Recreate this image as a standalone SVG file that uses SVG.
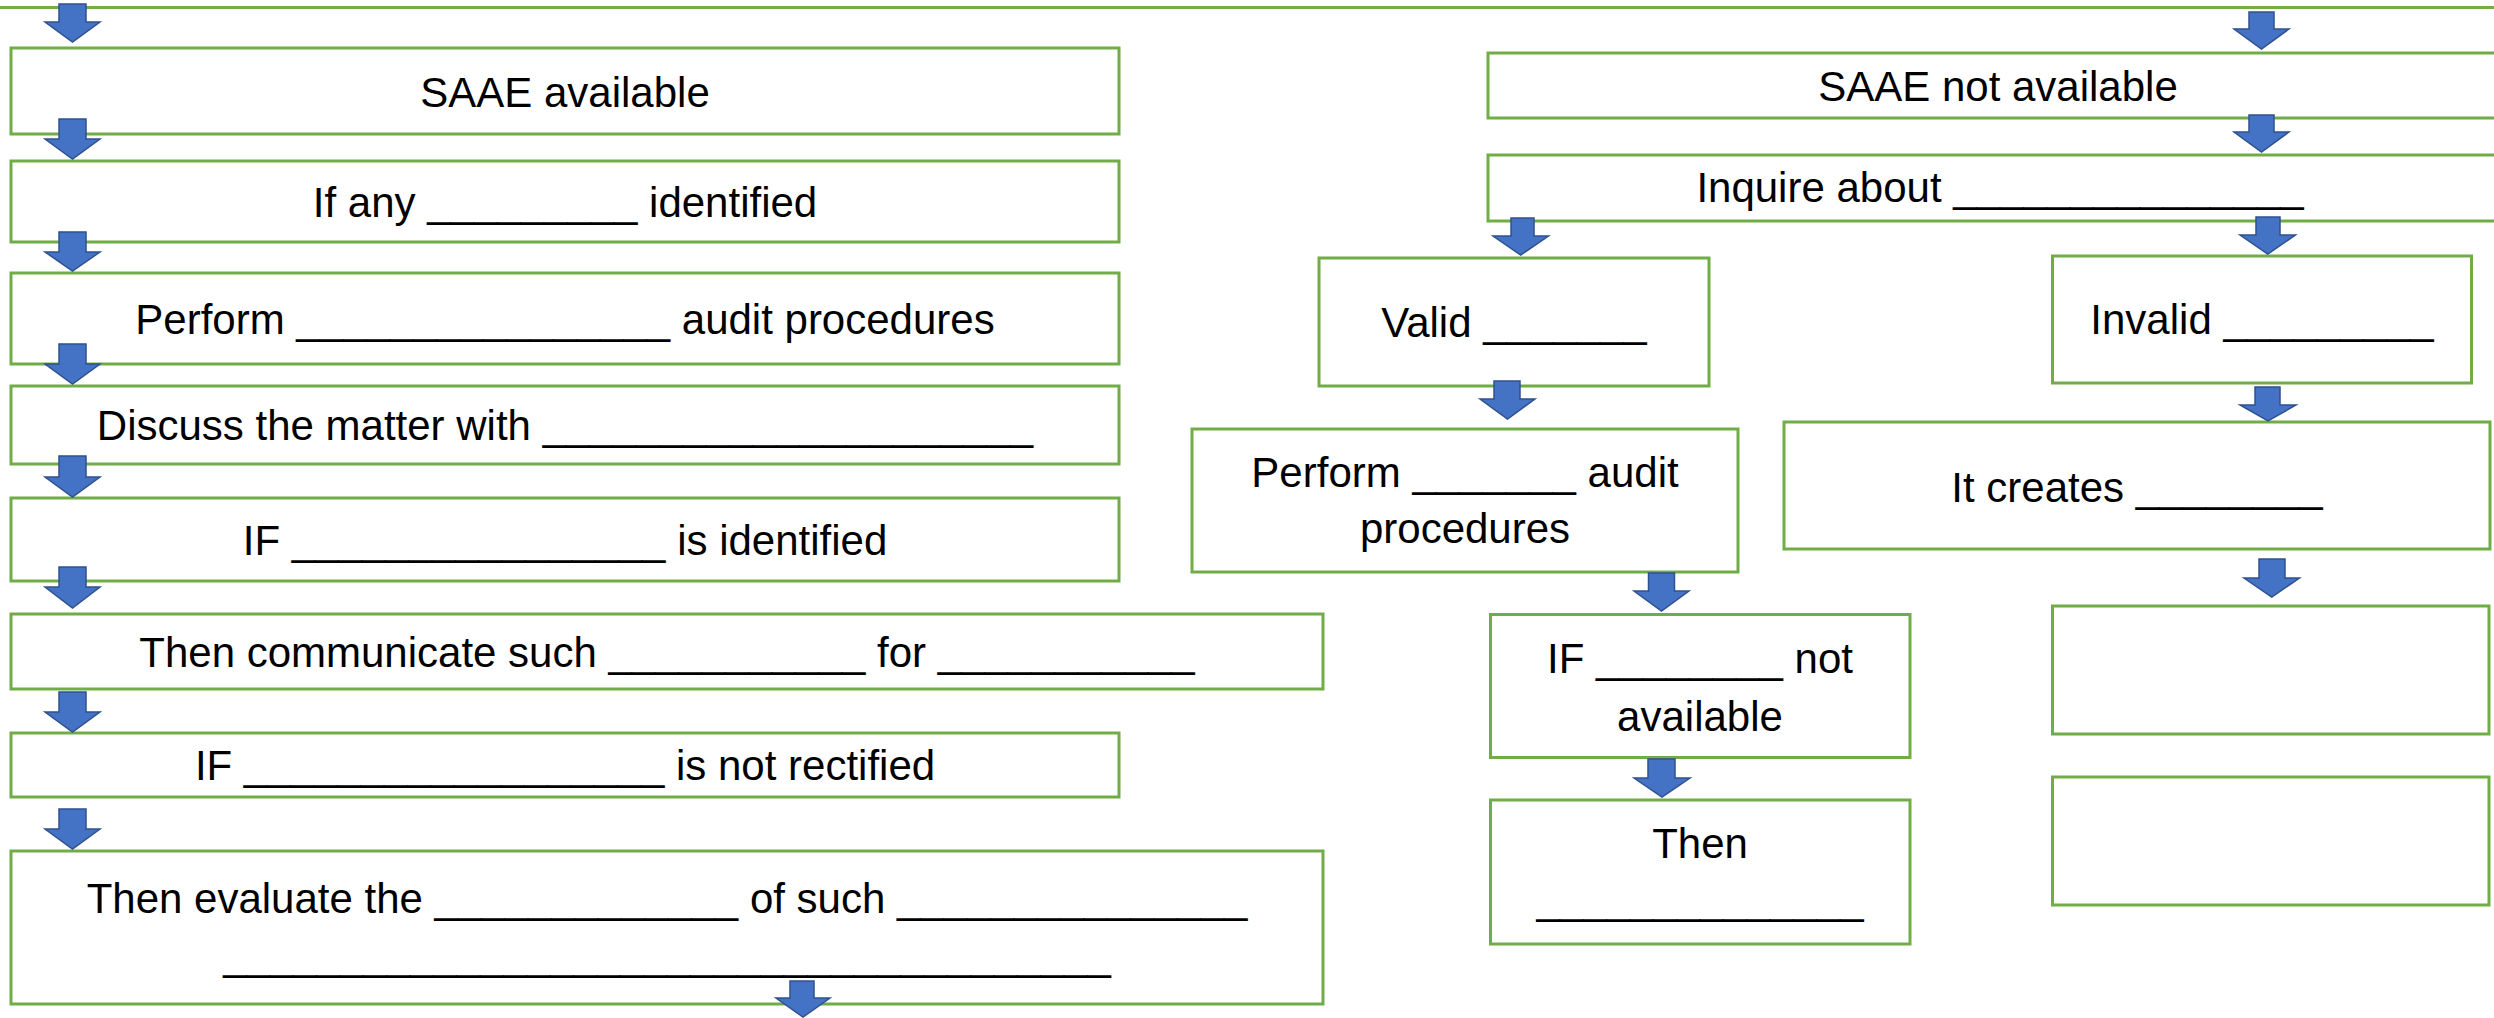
<svg xmlns="http://www.w3.org/2000/svg" width="2494" height="1018" viewBox="0 0 2494 1018">
<style>
.box{fill:#FFFFFF;stroke:#70AD47;stroke-width:3}
.line{stroke:#70AD47;stroke-width:3;fill:none}
.arr{fill:#4472C4;stroke:#2F528F;stroke-width:1.5;stroke-linejoin:miter}
text{font-family:"Liberation Sans",Arial,sans-serif;font-size:42px;fill:#000000;text-anchor:middle}
</style>
<rect x="0" y="0" width="2494" height="1018" fill="#FFFFFF"/>
<line class="line" x1="0" y1="7.5" x2="2494" y2="7.5"/>

<g id="n-saae-available"><rect class="box" x="11" y="48" width="1108" height="86"/><text x="565" y="107">SAAE available</text></g>
<g id="n-if-any"><rect class="box" x="11" y="161" width="1108" height="81"/><text x="565" y="217">If any _________ identified</text></g>
<g id="n-perform"><rect class="box" x="11" y="273" width="1108" height="91"/><text x="565" y="334">Perform ________________ audit procedures</text></g>
<g id="n-discuss"><rect class="box" x="11" y="386" width="1108" height="78"/><text x="565" y="440">Discuss the matter with _____________________</text></g>
<g id="n-if-identified"><rect class="box" x="11" y="498" width="1108" height="83"/><text x="565" y="555">IF ________________ is identified</text></g>
<g id="n-communicate"><rect class="box" x="11" y="614" width="1312" height="75"/><text x="667" y="667">Then communicate such ___________ for ___________</text></g>
<g id="n-not-rectified"><rect class="box" x="11" y="733" width="1108" height="64"/><text x="565" y="780">IF __________________ is not rectified</text></g>
<g id="n-evaluate"><rect class="box" x="11" y="851" width="1312" height="153"/><text x="667" y="913">Then evaluate the _____________ of such _______________</text><text x="667" y="970">______________________________________</text></g>

<g id="n-saae-not-available"><rect class="box" x="1488" y="53" width="1030" height="65"/><text x="1998" y="101">SAAE not available</text></g>
<g id="n-inquire"><rect class="box" x="1488" y="155" width="1030" height="66"/><text x="2000" y="202">Inquire about _______________</text></g>
<g id="n-valid"><rect class="box" x="1319" y="258" width="390" height="128"/><text x="1514" y="337">Valid _______</text></g>
<g id="n-invalid"><rect class="box" x="2052.5" y="256" width="419" height="127"/><text x="2262" y="334">Invalid _________</text></g>
<g id="n-perform-valid"><rect class="box" x="1192" y="429" width="546" height="143"/><text x="1465" y="487">Perform _______ audit</text><text x="1465" y="543">procedures</text></g>
<g id="n-creates"><rect class="box" x="1784" y="422" width="706" height="127"/><text x="2137" y="502">It creates ________</text></g>
<g id="n-if-not-available"><rect class="box" x="1490.5" y="614.5" width="419.5" height="143"/><text x="1700" y="673">IF ________ not</text><text x="1700" y="731">available</text></g>
<g id="n-then"><rect class="box" x="1490.5" y="800" width="419.5" height="144"/><text x="1700" y="858">Then</text><text x="1700" y="914">______________</text></g>
<g id="n-empty-1"><rect class="box" x="2052.5" y="606" width="436.5" height="128"/></g>
<g id="n-empty-2"><rect class="box" x="2052.5" y="777" width="436.5" height="128"/></g>

<g id="connectors">
<path class="arr" d="M59,4H86V22H100L72.5,42L45,22H59Z"/>
<path class="arr" d="M59,119H86V139H100L72.5,159L45,139H59Z"/>
<path class="arr" d="M59,232H86V252H100L72.5,271L45,252H59Z"/>
<path class="arr" d="M59,344H86V364H100L72.5,384L45,364H59Z"/>
<path class="arr" d="M59,456H86V477H100L72.5,497L45,477H59Z"/>
<path class="arr" d="M59,567H86V587H100L72.5,608L45,587H59Z"/>
<path class="arr" d="M59,692H86V712H100L72.5,732L45,712H59Z"/>
<path class="arr" d="M59,809H86V829H100L72.5,849L45,829H59Z"/>
<path class="arr" d="M790,981H814V998H830L803,1017L776,998H790Z"/>
<path class="arr" d="M2249,12H2274V29H2289L2261.5,49L2234,29H2249Z"/>
<path class="arr" d="M2249,115H2274V132H2289L2261.5,152L2234,132H2249Z"/>
<path class="arr" d="M1511,218H1534V236H1548.5L1520.75,255L1493,236H1511Z"/>
<path class="arr" d="M2256,217H2280V235H2295.5L2267.75,254L2240,235H2256Z"/>
<path class="arr" d="M1494,381H1520V399H1535L1507.5,419L1480,399H1494Z"/>
<path class="arr" d="M2255,387H2280V405H2296L2268,421L2240,405H2255Z"/>
<path class="arr" d="M1648.5,573H1674.5V591H1689L1661.5,611L1634,591H1648.5Z"/>
<path class="arr" d="M1648,759H1675V778H1690L1662,797L1634,778H1648Z"/>
<path class="arr" d="M2259,559H2285V578H2299.5L2271.75,597L2244,578H2259Z"/>
</g>
</svg>
